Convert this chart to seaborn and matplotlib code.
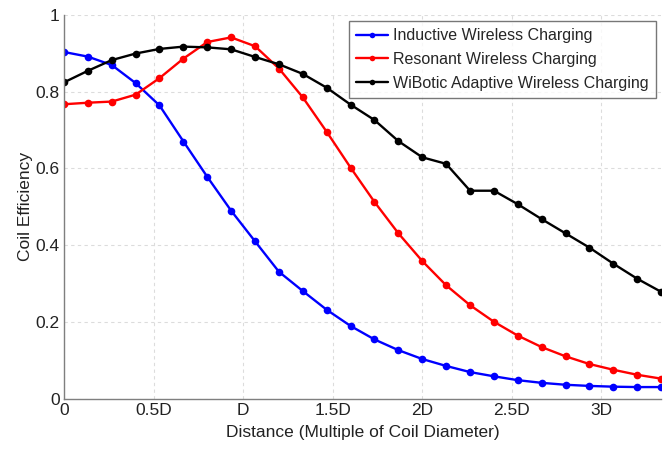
import numpy as np
import pandas as pd
import matplotlib
matplotlib.use("Agg")
import matplotlib.pyplot as plt
import seaborn as sns

# distance in multiples of coil diameter D
distance = [0.000, 0.133, 0.267, 0.400, 0.533, 0.667, 0.800, 0.933, 1.067, 1.200,
            1.333, 1.467, 1.600, 1.733, 1.867, 2.000, 2.133, 2.267, 2.400, 2.533,
            2.667, 2.800, 2.933, 3.067, 3.200, 3.333]

inductive = [0.903, 0.891, 0.869, 0.822, 0.764, 0.670, 0.578, 0.490, 0.410, 0.331,
             0.281, 0.232, 0.190, 0.155, 0.127, 0.104, 0.086, 0.070, 0.059, 0.049,
             0.042, 0.037, 0.034, 0.032, 0.031, 0.031]

resonant = [0.767, 0.771, 0.774, 0.792, 0.835, 0.886, 0.929, 0.941, 0.918, 0.860,
            0.785, 0.695, 0.602, 0.513, 0.431, 0.359, 0.296, 0.244, 0.201, 0.165,
            0.135, 0.111, 0.091, 0.076, 0.063, 0.053]

wibotic = [0.824, 0.854, 0.882, 0.899, 0.911, 0.917, 0.915, 0.910, 0.890, 0.871,
           0.846, 0.810, 0.766, 0.726, 0.671, 0.629, 0.612, 0.542, 0.542, 0.507,
           0.468, 0.431, 0.394, 0.352, 0.313, 0.279]

series_names = ["Inductive Wireless Charging", "Resonant Wireless Charging",
                "WiBotic Adaptive Wireless Charging"]
series_colors = ["#0000ff", "#ff0000", "#000000"]

xtick_vals = [0, 0.5, 1, 1.5, 2, 2.5, 3]
xtick_labels = ["0", "0.5D", "D", "1.5D", "2D", "2.5D", "3D"]
ytick_vals = [0, 0.2, 0.4, 0.6, 0.8, 1]
ytick_labels = ["0", "0.2", "0.4", "0.6", "0.8", "1"]

df = pd.DataFrame({
    "distance": distance * 3,
    "efficiency": inductive + resonant + wibotic,
    "series": [series_names[0]] * len(distance) + [series_names[1]] * len(distance)
              + [series_names[2]] * len(distance),
})

sns.set_style("white")
plt.rcParams["font.family"] = ["Liberation Sans", "DejaVu Sans"]

fig = plt.figure(figsize=(6.64, 4.49), dpi=100)
ax = fig.add_axes([0.0964, 0.1114, 0.8991, 0.8558])

sns.lineplot(data=df, x="distance", y="efficiency", hue="series",
             palette=dict(zip(series_names, series_colors)), marker="o",
             markersize=5.5, markeredgewidth=0, linewidth=1.7, ax=ax)

ax.set_xlim(0, 3.333)
ax.set_ylim(0, 1)
ax.set_xticks(xtick_vals)
ax.set_xticklabels(xtick_labels)
ax.set_yticks(ytick_vals)
ax.set_yticklabels(ytick_labels)
ax.grid(True, linestyle=(0, (3, 3)), color="#dcdcdc", linewidth=0.8)
ax.set_axisbelow(True)

for side in ["top", "right"]:
    ax.spines[side].set_visible(False)
for side in ["left", "bottom"]:
    ax.spines[side].set_color("#7f7f7f")
    ax.spines[side].set_linewidth(1.0)

ax.tick_params(axis="both", direction="in", length=4, color="#7f7f7f",
               labelsize=12.5, labelcolor="#222222", pad=3)

ax.set_xlabel("Distance (Multiple of Coil Diameter)", fontsize=12.5,
              color="#222222", labelpad=5)
ax.set_ylabel("Coil Efficiency", fontsize=12.5, color="#222222", labelpad=2)

leg = ax.legend(loc="upper right", bbox_to_anchor=(0.9916, 0.9836), fontsize=11.5,
                frameon=True, fancybox=False, edgecolor="#555555",
                handlelength=2.0, handletextpad=0.3, borderpad=0.45,
                labelspacing=0.55, borderaxespad=0)
leg.get_frame().set_linewidth(1.0)
for h in leg.legend_handles:
    h.set_markersize(4)

fig.savefig("out.png", dpi=100)
